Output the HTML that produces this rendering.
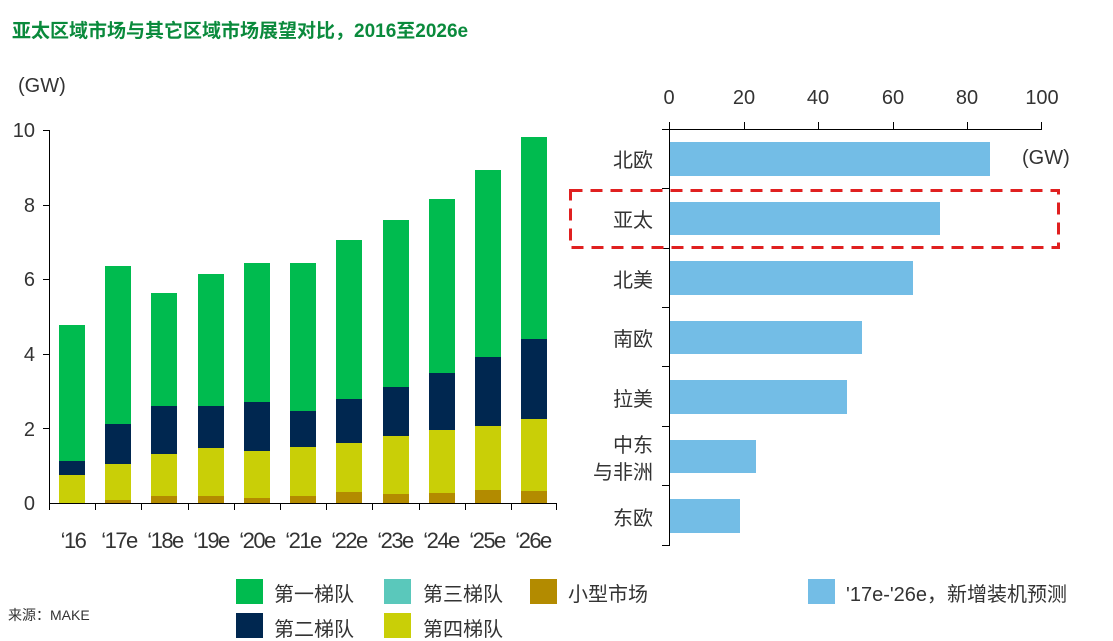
<!DOCTYPE html>
<html><head><meta charset="utf-8"><style>
body{margin:0;background:#fff;}
svg{display:block;}
text{font-family:"Liberation Sans","Noto Sans CJK SC",sans-serif;}
.cj{font-family:"Noto Serif CJK SC","Noto Sans CJK SC",serif;}
</style></head><body>
<svg width="1113" height="641" viewBox="0 0 1113 641" xmlns="http://www.w3.org/2000/svg">
<text x="12" y="37" font-size="19" font-weight="bold" fill="#0a8a3c" font-family="Liberation Sans, Noto Sans CJK SC, sans-serif">亚太区域市场与其它区域市场展望对比，2016至2026e</text>
<text x="18" y="92" font-size="20" fill="#333">(GW)</text>
<g font-size="20" fill="#333" text-anchor="end">
<text x="35" y="137">10</text><text x="35" y="212">8</text><text x="35" y="286">6</text><text x="35" y="361">4</text><text x="35" y="436">2</text><text x="35" y="510">0</text>
</g>
<g stroke="#000" stroke-width="1">
<line x1="49.5" y1="130" x2="49.5" y2="510"/>
<line x1="43" y1="130.5" x2="49" y2="130.5"/><line x1="43" y1="205.5" x2="49" y2="205.5"/><line x1="43" y1="279.5" x2="49" y2="279.5"/><line x1="43" y1="354.5" x2="49" y2="354.5"/><line x1="43" y1="428.5" x2="49" y2="428.5"/>
<line x1="49" y1="503.5" x2="557" y2="503.5"/>
<line x1="95.5" y1="503" x2="95.5" y2="510"/><line x1="141.5" y1="503" x2="141.5" y2="510"/><line x1="188.5" y1="503" x2="188.5" y2="510"/><line x1="234.5" y1="503" x2="234.5" y2="510"/><line x1="280.5" y1="503" x2="280.5" y2="510"/><line x1="326.5" y1="503" x2="326.5" y2="510"/><line x1="372.5" y1="503" x2="372.5" y2="510"/><line x1="419.5" y1="503" x2="419.5" y2="510"/><line x1="465.5" y1="503" x2="465.5" y2="510"/><line x1="511.5" y1="503" x2="511.5" y2="510"/><line x1="556.5" y1="503" x2="556.5" y2="510"/>
</g>
<g font-size="22" fill="#333" text-anchor="middle" letter-spacing="-1.5">
<text x="73" y="548">‘16</text><text x="119" y="548">‘17e</text><text x="165" y="548">‘18e</text><text x="211" y="548">‘19e</text><text x="257" y="548">‘20e</text><text x="303" y="548">‘21e</text><text x="349" y="548">‘22e</text><text x="395" y="548">‘23e</text><text x="441" y="548">‘24e</text><text x="487" y="548">‘25e</text><text x="533" y="548">‘26e</text>
</g>
<g font-size="20" fill="#333" text-anchor="middle">
<text x="669" y="104">0</text><text x="744" y="104">20</text><text x="818" y="104">40</text><text x="893" y="104">60</text><text x="967" y="104">80</text><text x="1042" y="104">100</text>
</g>
<text x="1022" y="164" font-size="20" fill="#333">(GW)</text>
<g fill="#73bde6">
<rect x="670" y="142" width="320" height="34"/>
<rect x="670" y="202" width="270" height="33"/>
<rect x="670" y="261" width="243" height="34"/>
<rect x="670" y="321" width="192" height="33"/>
<rect x="670" y="380" width="177" height="34"/>
<rect x="670" y="440" width="86" height="33"/>
<rect x="670" y="499" width="70" height="34"/>
</g>
<g stroke="#000" stroke-width="1">
<line x1="662" y1="129.5" x2="1042" y2="129.5"/>
<line x1="669.5" y1="122" x2="669.5" y2="546"/>
<line x1="744.5" y1="122" x2="744.5" y2="129"/><line x1="818.5" y1="122" x2="818.5" y2="129"/><line x1="893.5" y1="122" x2="893.5" y2="129"/><line x1="967.5" y1="122" x2="967.5" y2="129"/><line x1="1041.5" y1="122" x2="1041.5" y2="129"/>
<line x1="662" y1="188.5" x2="669" y2="188.5"/><line x1="662" y1="248.5" x2="669" y2="248.5"/><line x1="662" y1="307.5" x2="669" y2="307.5"/><line x1="662" y1="366.5" x2="669" y2="366.5"/><line x1="662" y1="426.5" x2="669" y2="426.5"/><line x1="662" y1="485.5" x2="669" y2="485.5"/><line x1="662" y1="545.5" x2="669" y2="545.5"/>
</g>
<rect x="570.5" y="190.5" width="488" height="57" fill="none" stroke="#e02020" stroke-width="3" stroke-dasharray="12,8"/>
<g font-size="20" fill="#333" text-anchor="end" class="cj">
<text x="653" y="167">北欧</text><text x="653" y="227">亚太</text><text x="653" y="287">北美</text><text x="653" y="346">南欧</text><text x="653" y="406">拉美</text><text x="653" y="452">中东</text><text x="653" y="479">与非洲</text><text x="653" y="525">东欧</text>
</g>
<g font-size="20" fill="#333" class="cj">
<rect x="236" y="579" width="27" height="25" fill="#00bb4f"/><text x="274" y="601">第一梯队</text>
<rect x="384" y="579" width="27" height="25" fill="#5ac8bb"/><text x="423" y="601">第三梯队</text>
<rect x="530" y="579" width="27" height="25" fill="#b38b00"/><text x="568" y="601">小型市场</text>
<rect x="236" y="613" width="27" height="25" fill="#002750"/><text x="274" y="636">第二梯队</text>
<rect x="384" y="613" width="27" height="25" fill="#c9cf07"/><text x="423" y="636">第四梯队</text>
<rect x="808" y="579" width="27" height="25" fill="#73bde6"/><text x="846" y="601">'17e-'26e，新增装机预测</text>
<text x="8" y="620" font-size="14">来源：MAKE</text>
</g>
<g>
<rect x="59" y="475" width="26" height="28" fill="#c9cf07"/><rect x="59" y="461" width="26" height="14" fill="#002750"/><rect x="59" y="325" width="26" height="136" fill="#00bb4f"/>
<rect x="105" y="500" width="26" height="3" fill="#b38b00"/><rect x="105" y="464" width="26" height="36" fill="#c9cf07"/><rect x="105" y="424" width="26" height="40" fill="#002750"/><rect x="105" y="266" width="26" height="158" fill="#00bb4f"/>
<rect x="151" y="496" width="26" height="7" fill="#b38b00"/><rect x="151" y="454" width="26" height="42" fill="#c9cf07"/><rect x="151" y="406" width="26" height="48" fill="#002750"/><rect x="151" y="293" width="26" height="113" fill="#00bb4f"/>
<rect x="198" y="496" width="26" height="7" fill="#b38b00"/><rect x="198" y="448" width="26" height="48" fill="#c9cf07"/><rect x="198" y="406" width="26" height="42" fill="#002750"/><rect x="198" y="274" width="26" height="132" fill="#00bb4f"/>
<rect x="244" y="498" width="26" height="5" fill="#b38b00"/><rect x="244" y="451" width="26" height="47" fill="#c9cf07"/><rect x="244" y="402" width="26" height="49" fill="#002750"/><rect x="244" y="263" width="26" height="139" fill="#00bb4f"/>
<rect x="290" y="496" width="26" height="7" fill="#b38b00"/><rect x="290" y="447" width="26" height="49" fill="#c9cf07"/><rect x="290" y="411" width="26" height="36" fill="#002750"/><rect x="290" y="263" width="26" height="148" fill="#00bb4f"/>
<rect x="336" y="492" width="26" height="11" fill="#b38b00"/><rect x="336" y="443" width="26" height="49" fill="#c9cf07"/><rect x="336" y="399" width="26" height="44" fill="#002750"/><rect x="336" y="240" width="26" height="159" fill="#00bb4f"/>
<rect x="383" y="494" width="26" height="9" fill="#b38b00"/><rect x="383" y="436" width="26" height="58" fill="#c9cf07"/><rect x="383" y="387" width="26" height="49" fill="#002750"/><rect x="383" y="220" width="26" height="167" fill="#00bb4f"/>
<rect x="429" y="493" width="26" height="10" fill="#b38b00"/><rect x="429" y="430" width="26" height="63" fill="#c9cf07"/><rect x="429" y="373" width="26" height="57" fill="#002750"/><rect x="429" y="199" width="26" height="174" fill="#00bb4f"/>
<rect x="475" y="490" width="26" height="13" fill="#b38b00"/><rect x="475" y="426" width="26" height="64" fill="#c9cf07"/><rect x="475" y="357" width="26" height="69" fill="#002750"/><rect x="475" y="170" width="26" height="187" fill="#00bb4f"/>
<rect x="521" y="491" width="26" height="12" fill="#b38b00"/><rect x="521" y="419" width="26" height="72" fill="#c9cf07"/><rect x="521" y="339" width="26" height="80" fill="#002750"/><rect x="521" y="137" width="26" height="202" fill="#00bb4f"/>
</g>
</svg>
</body></html>
